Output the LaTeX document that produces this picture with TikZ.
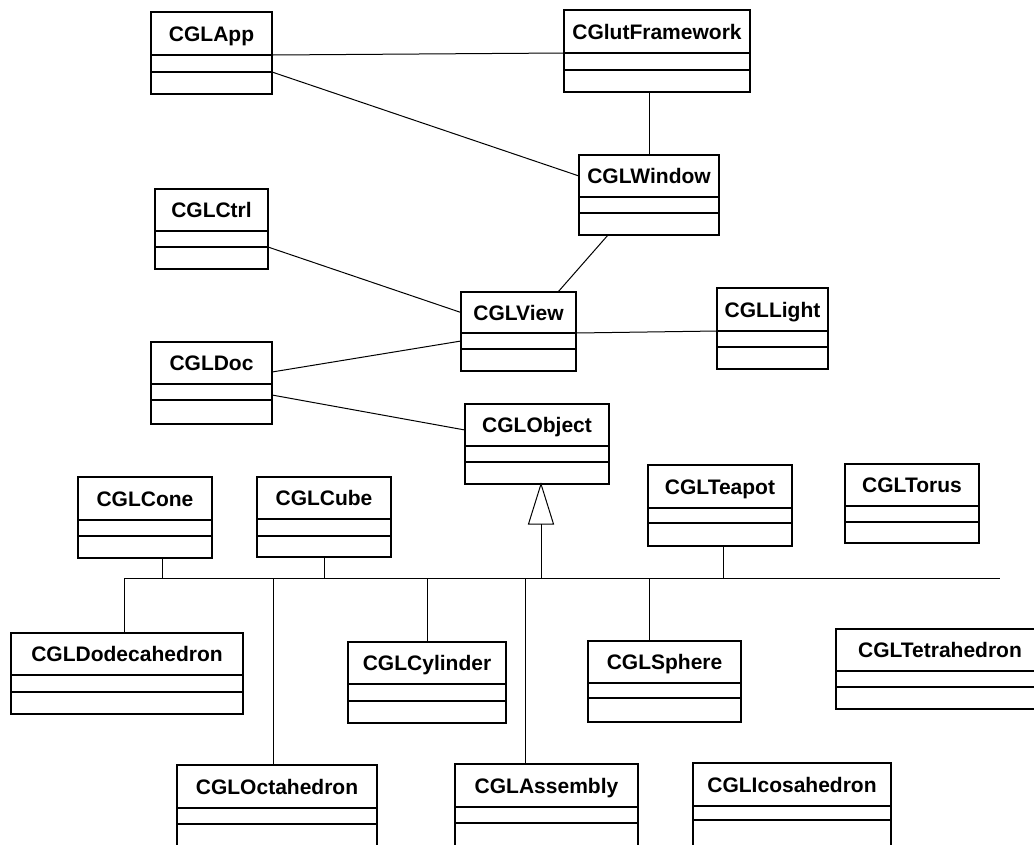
\documentclass[tikz,border=0pt]{standalone}
\usepackage{fontspec}
\setmainfont{Liberation Sans}
\usetikzlibrary{calc}
\tikzset{
  cls/.style={draw=black, line width=0.85pt, rectangle, inner sep=0pt, outer sep=0pt},
  cmp/.style={draw=black, line width=0.85pt},
  clsname/.style={inner sep=0pt, anchor=base, font=\fontsize{15.75}{18}\selectfont\bfseries, text=black},
  link/.style={draw=black, line width=0.75pt},
}
\newcommand{\umlcls}[8]{%
  \node[cls, anchor=north west, minimum width={(#4-#2)*0.75pt}, minimum height={(#5-#3)*0.75pt}] (#1) at (#2,#3) {};
  \coordinate (#1-l1) at (#2,#6); \coordinate (#1-r1) at (#4,#6);
  \coordinate (#1-l2) at (#2,#7); \coordinate (#1-r2) at (#4,#7);
  \coordinate (#1-nl) at (#2,{(#3+#6)/2}); \coordinate (#1-nr) at (#4,{(#3+#6)/2});
  \draw[cmp] (#1-l1) -- (#1-r1);
  \draw[cmp] (#1-l2) -- (#1-r2);
  \node[clsname] (#1-name) at ({(#2+#4)/2},{(#3+#6)/2+7.5}) {#8};
}
\begin{document}
\begin{tikzpicture}[x=0.75pt, y=-0.75pt]
\useasboundingbox (0,0) rectangle (1034,844);
\fill[white] (0,0) rectangle (1034,844);
\clip (0,0) rectangle (1034,844);

\umlcls{app}{151}{12}{272}{94}{55}{72}{CGLApp}
\umlcls{fw}{564}{10}{750}{92}{53}{70}{CGlutFramework}
\umlcls{win}{579}{155}{719}{235}{197}{213}{CGLWindow}
\umlcls{ctrl}{155}{189}{268}{269}{231}{247}{CGLCtrl}
\umlcls{view}{461}{292}{576}{371}{333}{349}{CGLView}
\umlcls{light}{717}{288}{828}{369}{331}{347}{CGLLight}
\umlcls{doc}{151}{342}{272}{424}{384}{400}{CGLDoc}
\umlcls{obj}{465}{404}{609}{484}{446}{462}{CGLObject}
\umlcls{cone}{78}{477}{212}{558}{520}{536}{CGLCone}
\umlcls{cube}{257}{477}{391}{557}{519}{536}{CGLCube}
\umlcls{teapot}{648}{465}{792}{546}{508}{523}{CGLTeapot}
\umlcls{torus}{845}{464}{979}{543}{506}{522}{CGLTorus}
\umlcls{dodeca}{11}{633}{243}{714}{675}{692}{CGLDodecahedron}
\umlcls{cyl}{348}{642}{506}{723}{684}{701}{CGLCylinder}
\umlcls{sphere}{588}{641}{741}{722}{683}{698}{CGLSphere}
\umlcls{tetra}{836}{629}{1044}{709}{671}{687}{CGLTetrahedron}
\umlcls{octa}{177}{765}{377}{848}{808}{824}{CGLOctahedron}
\umlcls{asm}{455}{764}{638}{848}{807}{823}{CGLAssembly}
\umlcls{ico}{693}{763}{891}{848}{806}{820}{CGLIcosahedron}

% associations
\draw[link] (app-r1) -- (fw-l1);
\draw[link] (app-r2) -- (win-nl);
\draw[link] (fw.south -| win.north) -- (win.north);
\draw[link] (ctrl-r2) -- (view-nl);
\draw[link] ($(doc.north east)+(0,30)$) -- ($(view.north west)+(0,49)$);
\draw[link] ($(doc.north east)+(0,53)$) -- ($(obj.north west)+(0,26)$);
\draw[link] ($(win.south west)+(29,0)$) -- ($(view.north west)+(97,0)$);
\draw[link] (view-r1) -- (light-l1);

% generalization
\coordinate (tip) at ($(obj.south west)+(76,0)$);
\coordinate (tribase) at ($(tip)+(0,40)$);
\coordinate (busL) at (124,578);
\coordinate (busR) at (1000,578);
\draw[link, fill=white] (tip) -- ++(-12.5,40) -- ++(25,0) -- cycle;
\draw[link] (busL) -- (busR);
\draw[link] (tribase) -- (tribase |- busL);
\coordinate (c1) at ($(cone.south west)+(84,0)$);
\draw[link] (c1) -- (c1 |- busL);
\draw[link] (cube.south) -- (cube.south |- busL);
\draw[link] (busL) -- (busL |- dodeca.north);
\coordinate (o1) at ($(octa.north west)+(96,0)$);
\draw[link] (o1) -- (o1 |- busL);
\draw[link] (cyl.north) -- (cyl.north |- busL);
\coordinate (a1) at ($(asm.north west)+(70,0)$);
\draw[link] (a1) -- (a1 |- busL);
\coordinate (s1) at ($(sphere.north west)+(61,0)$);
\draw[link] (s1) -- (s1 |- busL);
\coordinate (t1) at ($(teapot.south west)+(75,0)$);
\draw[link] (t1) -- (t1 |- busL);
\end{tikzpicture}
\end{document}
